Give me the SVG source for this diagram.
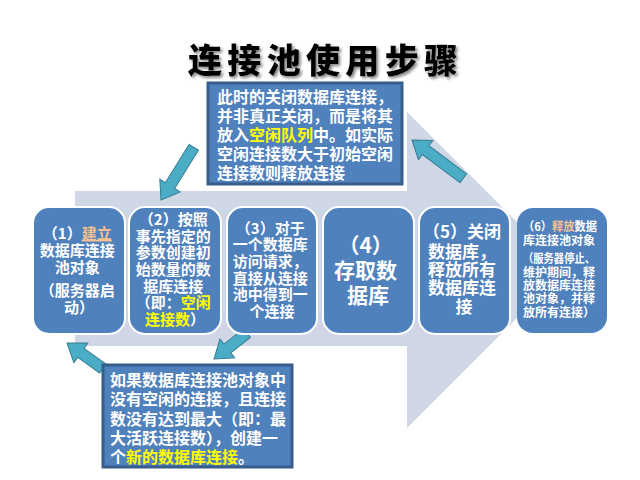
<svg xmlns="http://www.w3.org/2000/svg" width="640" height="480" viewBox="0 0 640 480">
<defs>
<style>
.t{font-family:"Noto Sans CJK SC","Liberation Sans",sans-serif;fill:#FFFFFF;font-weight:bold}
.node{fill:#4F81BD;stroke:#FFFFFF;stroke-width:2}
.box{fill:#4F81BD;stroke:#385D8A;stroke-width:3}
.y{fill:#FFFF00}
.p{fill:#FAC090}
.arr{fill:#4BACC6;stroke:#357D91;stroke-width:1}
</style>
<filter id="sh" x="-10%" y="-20%" width="130%" height="160%">
<feDropShadow dx="2" dy="2" stdDeviation="1.5" flood-color="#666666" flood-opacity="0.8"/>
</filter>
<path id="ba" d="M0,0 L-17,-12 L-17,-5.5 L-100,-5.5 L-100,5.5 L-17,5.5 L-17,12 Z"/>
</defs>
<rect width="640" height="480" fill="#FFFFFF"/>
<!-- background big arrow -->
<polygon points="75,191 407,191 407,112 565,270 407,428 407,346 75,346" fill="#CFD6E6"/>
<!-- title -->
<text x="188" y="73" font-family="'Noto Sans CJK SC',sans-serif" font-weight="900" font-size="34" fill="#000000" textLength="270" lengthAdjust="spacing" filter="url(#sh)">连接池使用步骤</text>
<g id="connectors">
<path class="arr" d="M0,0 L-17,-12 L-17,-5.5 L-62,-5.5 L-62,5.5 L-17,5.5 L-17,12 Z" transform="translate(161,200) rotate(121.9)"/>
<path class="arr" d="M0,0 L-17,-12 L-17,-5.5 L-64,-5.5 L-64,5.5 L-17,5.5 L-17,12 Z" transform="translate(412,140) rotate(-143.3)"/>
<path class="arr" d="M0,0 L-17,-12 L-17,-5.5 L-42,-5.5 L-42,5.5 L-17,5.5 L-17,12 Z" transform="translate(214,359) rotate(141.8)"/>
<path class="arr" d="M0,0 L-17,-12 L-17,-5.5 L-44,-5.5 L-44,5.5 L-17,5.5 L-17,12 Z" transform="translate(67,343) rotate(-144.5)"/>
</g>
<g id="note-top">
<rect class="box" x="208" y="83" width="194" height="101"/>
<text class="t" font-size="16" x="217">
<tspan x="217" y="103">此时的关闭数据库连接，</tspan>
<tspan x="217" y="122">并非真正关闭，而是将其</tspan>
<tspan x="217" y="141">放入<tspan class="y">空闲队列</tspan>中。如实际</tspan>
<tspan x="217" y="160">空闲连接数大于初始空闲</tspan>
<tspan x="217" y="179">连接数则释放连接</tspan>
</text>
</g>
<g id="node1">
<rect class="node" x="33" y="207" width="92" height="127" rx="16"/>
<text class="t" font-size="15" text-anchor="middle">
<tspan x="79" y="239">（1）<tspan class="p" text-decoration="underline">建立</tspan></tspan>
<tspan x="79" y="256">数据库连接</tspan>
<tspan x="79" y="273">池对象</tspan>
<tspan x="79" y="296">（服务器启</tspan>
<tspan x="79" y="313">动）</tspan>
</text>
</g>
<g id="node2">
<rect class="node" x="129" y="207" width="92" height="127" rx="16"/>
<text class="t" font-size="15" text-anchor="middle">
<tspan x="175" y="225">（2）按照</tspan>
<tspan x="175" y="242">事先指定的</tspan>
<tspan x="175" y="258">参数创建初</tspan>
<tspan x="175" y="275">始数量的数</tspan>
<tspan x="175" y="292">据库连接</tspan>
<tspan x="175" y="308">（即：<tspan class="y">空闲</tspan></tspan>
<tspan x="175" y="325"><tspan class="y">连接数</tspan>）</tspan>
</text>
</g>
<g id="node3">
<rect class="node" x="227" y="207" width="90" height="127" rx="16"/>
<text class="t" font-size="15" text-anchor="middle">
<tspan x="272" y="234">（3）对于</tspan>
<tspan x="272" y="250">一个数据库</tspan>
<tspan x="272" y="267">访问请求，</tspan>
<tspan x="272" y="284">直接从连接</tspan>
<tspan x="272" y="300">池中得到一</tspan>
<tspan x="272" y="317">个连接</tspan>
</text>
</g>
<g id="node4">
<rect class="node" x="323" y="207" width="91" height="127" rx="16"/>
<text class="t" font-size="21" text-anchor="middle">
<tspan x="368" y="253">（4）</tspan>
<tspan x="368" y="278">存取数</tspan>
<tspan x="368" y="303">据库</tspan>
</text>
</g>
<g id="node5">
<rect class="node" x="419" y="207" width="91" height="127" rx="16"/>
<text class="t" font-size="17" text-anchor="middle">
<tspan x="464" y="238">（5）关闭</tspan>
<tspan x="464" y="258">数据库，</tspan>
<tspan x="464" y="276">释放所有</tspan>
<tspan x="464" y="294">数据库连</tspan>
<tspan x="464" y="313">接</tspan>
</text>
</g>
<g id="node6">
<rect x="517" y="208" width="90" height="125" rx="16" fill="#4F81BD"/>
<text class="t" font-size="12">
<tspan x="523" y="231" textLength="74" lengthAdjust="spacingAndGlyphs">（6）<tspan class="p">释放</tspan>数据</tspan>
<tspan x="523" y="245">库连接池对象</tspan>
<tspan x="523" y="263" textLength="72" lengthAdjust="spacingAndGlyphs">（服务器停止、</tspan>
<tspan x="523" y="277">维护期间，释</tspan>
<tspan x="523" y="290">放数据库连接</tspan>
<tspan x="523" y="303">池对象，并释</tspan>
<tspan x="523" y="317">放所有连接）</tspan>
</text>
</g>
<g id="note-bottom">
<rect class="box" x="103" y="365" width="189" height="102"/>
<text class="t" font-size="16">
<tspan x="110" y="386">如果数据库连接池对象中</tspan>
<tspan x="110" y="405">没有空闲的连接，且连接</tspan>
<tspan x="110" y="425">数没有达到最大（即：最</tspan>
<tspan x="110" y="444">大活跃连接数），创建一</tspan>
<tspan x="110" y="463">个<tspan class="y">新的数据库连接</tspan>。</tspan>
</text>
</g>
</svg>
